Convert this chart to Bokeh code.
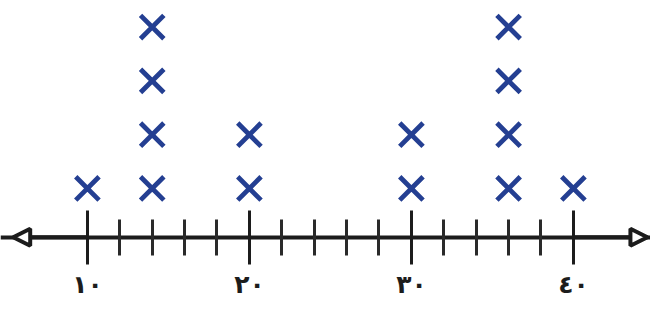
from bokeh.plotting import figure
from bokeh.models import Range1d, FixedTicker, Arrow, NormalHead, LinearAxis
from bokeh.embed import file_html
from bokeh.resources import INLINE

# data
values = [10, 14, 20, 30, 36, 40]
counts = [1, 4, 2, 2, 4, 1]
major_ticks = [10, 20, 30, 40]
minor_ticks = [12, 14, 16, 18, 22, 24, 26, 28, 32, 34, 36, 38]
tick_labels = ["١٠", "٢٠", "٣٠", "٤٠"]

xs, ys = [], []
for v, c in zip(values, counts):
    for k in range(1, c + 1):
        xs.append(v)
        ys.append(k)

x_start, x_end = 4.636, 44.76
y_start, y_end = -1.212, 4.494
axis_y = 0.094
arrow_left, arrow_right = 5.42, 44.57

p = figure(width=650, height=307,
           x_range=Range1d(x_start, x_end), y_range=Range1d(y_start, y_end),
           output_backend="svg", toolbar_location=None,
           x_axis_location=None, y_axis_location=None, min_border=0,
           background_fill_color="white", border_fill_color="white")
p.outline_line_color = None
p.grid.visible = False

ax = LinearAxis(fixed_location=axis_y)
ax.ticker = FixedTicker(ticks=major_ticks, minor_ticks=minor_ticks)
ax.major_label_overrides = {t: l for t, l in zip(major_ticks, tick_labels)}
ax.axis_line_width = 4
ax.axis_line_color = "#1c1c1c"
ax.major_tick_line_width = 3
ax.major_tick_line_color = "#1c1c1c"
ax.minor_tick_line_width = 3
ax.minor_tick_line_color = "#2a2a2a"
ax.major_tick_in = 27
ax.major_tick_out = 27
ax.minor_tick_in = 18
ax.minor_tick_out = 18
ax.major_label_text_font = "DejaVu Sans"
ax.major_label_text_font_style = "bold"
ax.major_label_text_font_size = "25px"
ax.major_label_text_color = "#1c1c1c"
ax.major_label_standoff = 6
p.add_layout(ax, "below")

p.scatter(xs, ys, marker="x", size=33, line_width=4.8, line_color="#243f92")

head_l = NormalHead(size=17, fill_color="white", line_color="#1c1c1c", line_width=4)
head_r = NormalHead(size=17, fill_color="white", line_color="#1c1c1c", line_width=4)
p.add_layout(Arrow(end=head_l, x_start=major_ticks[0], y_start=axis_y,
                   x_end=arrow_left, y_end=axis_y, line_color="#1c1c1c", line_width=4))
p.add_layout(Arrow(end=head_r, x_start=major_ticks[-1], y_start=axis_y,
                   x_end=arrow_right, y_end=axis_y, line_color="#1c1c1c", line_width=4))

open("out.html", "w").write(file_html(p, INLINE))
